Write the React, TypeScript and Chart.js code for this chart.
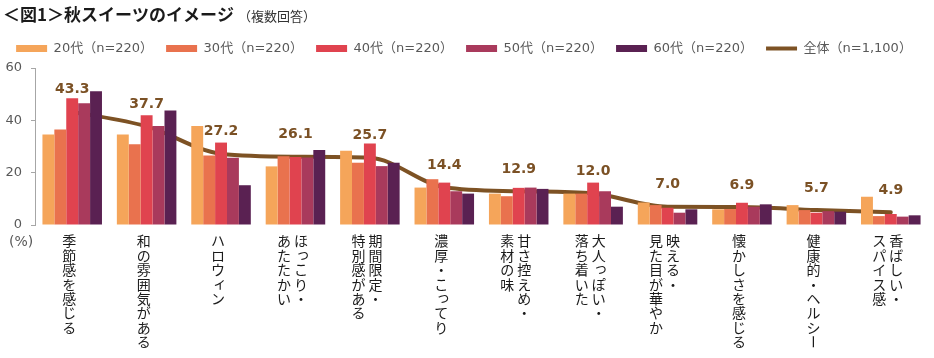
import React, { useEffect, useRef } from 'react';
import { Chart, registerables } from 'chart.js';

Chart.register(...registerables);

const categories: string[][] = [
  ['季節感を感じる'],
  ['和の雰囲気がある'],
  ['ハロウィン'],
  ['ほっこり・', 'あたたかい'],
  ['期間限定・', '特別感がある'],
  ['濃厚・こってり'],
  ['甘さ控えめ・', '素材の味'],
  ['大人っぽい・', '落ち着いた'],
  ['映える・', '見た目が華やか'],
  ['懐かしさを感じる'],
  ['健康的・ヘルシー'],
  ['香ばしい・', 'スパイス感'],
];

const age20 = [34.6, 34.6, 37.8, 22.4, 28.4, 14.3, 12.0, 12.0, 8.6, 6.0, 7.6, 10.8];
const age30 = [36.5, 30.9, 26.6, 26.3, 23.8, 17.5, 11.0, 12.0, 7.6, 6.1, 5.7, 3.4];
const age40 = [48.4, 41.9, 31.5, 26.0, 31.1, 16.2, 14.2, 16.2, 6.6, 8.5, 4.7, 4.2];
const age50 = [46.5, 37.8, 25.7, 25.8, 22.5, 12.9, 14.3, 12.9, 4.7, 7.0, 5.3, 3.2];
const age60 = [51.1, 43.8, 15.2, 28.7, 23.8, 12.0, 13.8, 7.0, 6.0, 7.9, 5.1, 3.7];
const total = [43.3, 37.7, 27.2, 26.1, 25.7, 14.4, 12.9, 12.0, 7.0, 6.9, 5.7, 4.9];

const seriesNames = ['20代（n=220）', '30代（n=220）', '40代（n=220）', '50代（n=220）', '60代（n=220）'];
const totalName = '全体（n=1,100）';
const seriesColors = ['#F5A55A', '#E9724E', '#E0434F', '#A93A5C', '#5A2152'];
const lineColor = '#7D5224';

const yMin = 0;
const yMax = 60;
const yStep = 20;

const titleMain = '＜図1＞秋スイーツのイメージ';
const titleSub = '（複数回答）';
const yUnit = '(%)';

const LATIN = '"DejaVu Sans", "Noto Sans CJK JP", sans-serif';
const CJK = '"Noto Sans CJK JP", sans-serif';

const SMALL_KANA = 'ぁぃぅぇぉっゃゅょゎァィゥェォッャュョヮ';

const extrasPlugin = {
  id: 'extras',
  beforeInit(chart: any) {
    const lg = chart.legend;
    if (lg && !lg.__patched) {
      const f = lg.fit.bind(lg);
      lg.fit = () => {
        f();
        lg.height += 3;
      };
      lg.__patched = true;
    }
  },
  afterDatasetsDraw(chart: any) {
    const ctx = chart.ctx as CanvasRenderingContext2D;
    const idx = chart.data.datasets.length - 1;
    const meta = chart.getDatasetMeta(idx);
    ctx.save();
    ctx.font = `bold 14px ${LATIN}`;
    ctx.fillStyle = '#7B5125';
    ctx.textAlign = 'center';
    ctx.textBaseline = 'middle';
    meta.data.forEach((pt: any, i: number) => {
      ctx.fillText(total[i].toFixed(1), pt.x, pt.y - 22);
    });
    ctx.restore();
  },
  afterDraw(chart: any) {
    const ctx = chart.ctx as CanvasRenderingContext2D;
    const area = chart.chartArea;
    const xs = chart.scales.x;
    ctx.save();
    // title
    ctx.textBaseline = 'middle';
    ctx.textAlign = 'left';
    ctx.fillStyle = '#1a1a1a';
    ctx.font = `bold 17px ${CJK}`;
    ctx.fillText(titleMain, 3, 15);
    const w = ctx.measureText(titleMain).width;
    ctx.font = `13px ${CJK}`;
    ctx.fillStyle = '#333333';
    ctx.fillText(titleSub, 3 + w + 4, 16);
    // unit
    ctx.font = `14px ${LATIN}`;
    ctx.fillStyle = '#595959';
    ctx.fillText(yUnit, 9, area.bottom + 17);
    // vertical category labels
    ctx.font = `14px ${CJK}`;
    ctx.fillStyle = '#1a1a1a';
    ctx.textAlign = 'center';
    categories.forEach((lines, i) => {
      const cx = xs.getPixelForValue(i) - 3;
      const n = lines.length;
      lines.forEach((line, j) => {
        const colX = cx + ((n - 1) / 2 - j) * 17;
        Array.from(line).forEach((ch, k) => {
          const cy = area.bottom + 16 + k * 14.4;
          if (ch === 'ー') {
            ctx.save();
            ctx.translate(colX, cy);
            ctx.rotate(Math.PI / 2);
            ctx.fillText(ch, 0, 0);
            ctx.restore();
          } else if (SMALL_KANA.includes(ch)) {
            ctx.fillText(ch, colX + 2, cy - 2);
          } else {
            ctx.fillText(ch, colX, cy);
          }
        });
      });
    });
    ctx.restore();
  },
};

export default function App() {
  const ref = useRef<HTMLCanvasElement>(null);
  useEffect(() => {
    if (!ref.current) return;
    const barSets = [age20, age30, age40, age50, age60].map((d, i) => ({
      type: 'bar' as const,
      label: seriesNames[i],
      data: d,
      backgroundColor: seriesColors[i],
      borderWidth: 0,
      categoryPercentage: 0.8,
      barPercentage: 1.0,
      pointStyle: 'rect',
    }));
    const chart = new Chart(ref.current, {
      type: 'bar',
      data: {
        labels: categories,
        datasets: [
          ...barSets,
          {
            type: 'line' as const,
            label: totalName,
            data: total,
            borderColor: lineColor,
            backgroundColor: lineColor,
            borderWidth: 4,
            pointRadius: 0,
            tension: 0.3,
            cubicInterpolationMode: 'monotone',
            borderCapStyle: 'round',
            pointStyle: 'line',
          } as any,
        ],
      },
      options: {
        animation: false,
        responsive: false,
        devicePixelRatio: 1,
        layout: { padding: { top: 29, right: 6, bottom: 133, left: 0 } },
        plugins: {
          legend: {
            position: 'top',
            labels: {
              usePointStyle: true,
              pointStyleWidth: 31,
              boxHeight: 7,
              padding: 13,
              color: '#595959',
              font: { family: LATIN, size: 13 },
            },
          },
          tooltip: { enabled: false },
          title: { display: false },
        },
        scales: {
          x: {
            display: false,
            grid: { display: false },
          },
          y: {
            min: yMin,
            max: yMax,
            afterFit(scale: any) {
              scale.width = 35;
            },
            ticks: {
              stepSize: yStep,
              color: '#595959',
              padding: 9,
              font: { family: LATIN, size: 13 },
            },
            grid: {
              drawOnChartArea: false,
              drawTicks: true,
              tickLength: 4,
              color: '#A6A6A6',
            },
            border: { display: true, color: '#A6A6A6' },
          },
        },
      },
      plugins: [extrasPlugin],
    });
    return () => chart.destroy();
  }, []);
  return (
    <div style={{ position: 'fixed', left: 0, top: 0, width: 934, height: 358, background: '#fff' }}>
      <canvas ref={ref} width={934} height={358} />
    </div>
  );
}
